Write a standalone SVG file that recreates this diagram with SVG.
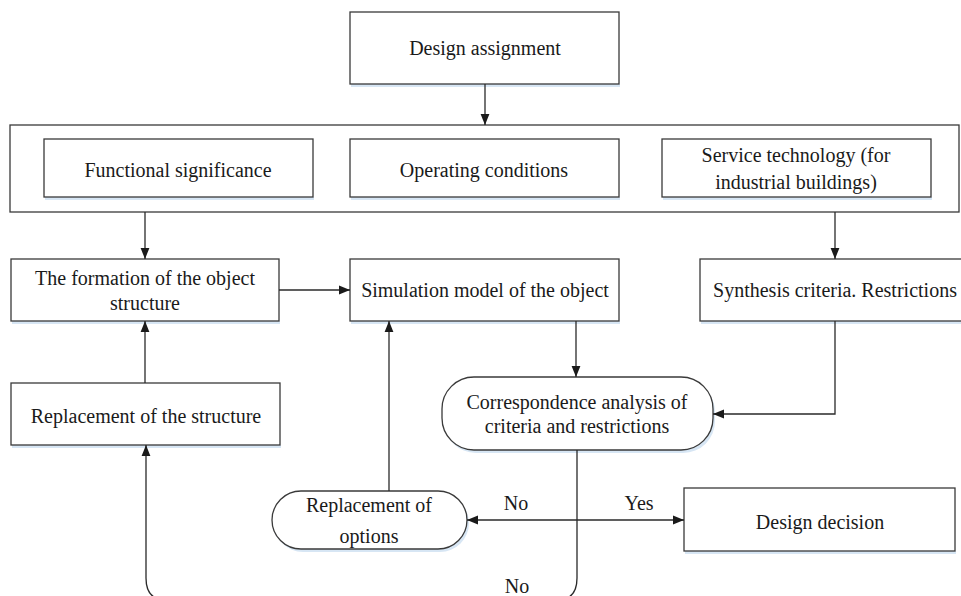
<svg xmlns="http://www.w3.org/2000/svg" width="961" height="596" viewBox="0 0 961 596">
<style>
.box{fill:#ffffff;stroke:#3a3a3a;stroke-width:1.3}
.sh{fill:#d7e6f4;stroke:none}
.t{font-family:"Liberation Serif","Times New Roman",serif;font-size:20px;fill:#1a1a1a;text-anchor:middle}
.c{fill:none;stroke:#2a2a2a;stroke-width:1.3}
</style>
<defs>
<marker id="ah" viewBox="0 0 11 10" refX="11" refY="5" markerWidth="11" markerHeight="10" markerUnits="userSpaceOnUse" orient="auto-start-reverse">
<path d="M0,0.6 L11,5 L0,9.4 Z" fill="#1a1a1a"/>
</marker>
</defs>
<rect width="961" height="596" fill="#ffffff"/>

<g id="container">
<rect class="box" x="10" y="125" width="949" height="87"/>
</g>
<g id="design-assignment">
<rect class="sh" x="351" y="84" width="269" height="3"/>
<rect class="box" x="350" y="12" width="269" height="72"/>
<text class="t" x="485" y="55">Design assignment</text>
</g>
<g id="functional-significance">
<rect class="sh" x="45" y="197" width="269" height="3"/>
<rect class="box" x="44" y="139" width="269" height="58"/>
<text class="t" x="178" y="177">Functional significance</text>
</g>
<g id="operating-conditions">
<rect class="sh" x="351" y="197" width="269" height="3"/>
<rect class="box" x="350" y="139" width="269" height="58"/>
<text class="t" x="484" y="177">Operating conditions</text>
</g>
<g id="service-technology">
<rect class="sh" x="663" y="197" width="269" height="3"/>
<rect class="box" x="662" y="139" width="269" height="58"/>
<text class="t" x="796" y="162">Service technology (for</text>
<text class="t" x="796" y="189">industrial buildings)</text>
</g>
<g id="formation">
<rect class="sh" x="12" y="321" width="268" height="3"/>
<rect class="box" x="11" y="259" width="268" height="62"/>
<text class="t" x="145" y="285">The formation of the object</text>
<text class="t" x="145" y="310">structure</text>
</g>
<g id="simulation">
<rect class="sh" x="351" y="321" width="269" height="3"/>
<rect class="box" x="350" y="259" width="269" height="62"/>
<text class="t" x="485" y="297">Simulation model of the object</text>
</g>
<g id="synthesis">
<rect class="sh" x="701" y="321" width="262" height="3"/>
<rect class="box" x="700" y="259" width="265" height="62"/>
<text class="t" x="835" y="297">Synthesis criteria. Restrictions</text>
</g>
<g id="correspondence">
<rect class="sh" x="444" y="380" width="271" height="73" rx="32"/>
<rect class="box" x="442" y="377" width="271" height="73" rx="32"/>
<text class="t" x="577" y="409">Correspondence analysis of</text>
<text class="t" x="577" y="433">criteria and restrictions</text>
</g>
<g id="replacement-structure">
<rect class="sh" x="12" y="445" width="269" height="3"/>
<rect class="box" x="11" y="383" width="269" height="62"/>
<text class="t" x="146" y="423">Replacement of the structure</text>
</g>
<g id="replacement-options">
<rect class="sh" x="274" y="494" width="195" height="58" rx="29"/>
<rect class="box" x="272" y="491" width="195" height="58" rx="29"/>
<text class="t" x="369" y="512">Replacement of</text>
<text class="t" x="369" y="543">options</text>
</g>
<g id="design-decision">
<rect class="sh" x="685" y="551" width="271" height="3"/>
<rect class="box" x="684" y="488" width="271" height="63"/>
<text class="t" x="820" y="529">Design decision</text>
</g>

<g id="connectors">
<path class="c" d="M485 84 V125" marker-end="url(#ah)"/>
<path class="c" d="M145 212 V259" marker-end="url(#ah)"/>
<path class="c" d="M835 212 V259" marker-end="url(#ah)"/>
<path class="c" d="M279 290 H350" marker-end="url(#ah)"/>
<path class="c" d="M576 321 V377" marker-end="url(#ah)"/>
<path class="c" d="M835 321 V414 H713" marker-end="url(#ah)"/>
<path class="c" d="M145 383 V321" marker-end="url(#ah)"/>
<path class="c" d="M389 491 V321" marker-end="url(#ah)"/>
<path class="c" d="M467 520 H684" marker-start="url(#ah)" marker-end="url(#ah)"/>
<path class="c" d="M577 450 V578 Q577 600 557 600 H166 Q146 600 146 578 V445" marker-end="url(#ah)"/>
</g>
<g id="labels">
<text class="t" x="516" y="510">No</text>
<text class="t" x="639" y="510">Yes</text>
<text class="t" x="517" y="593">No</text>
</g>
</svg>
